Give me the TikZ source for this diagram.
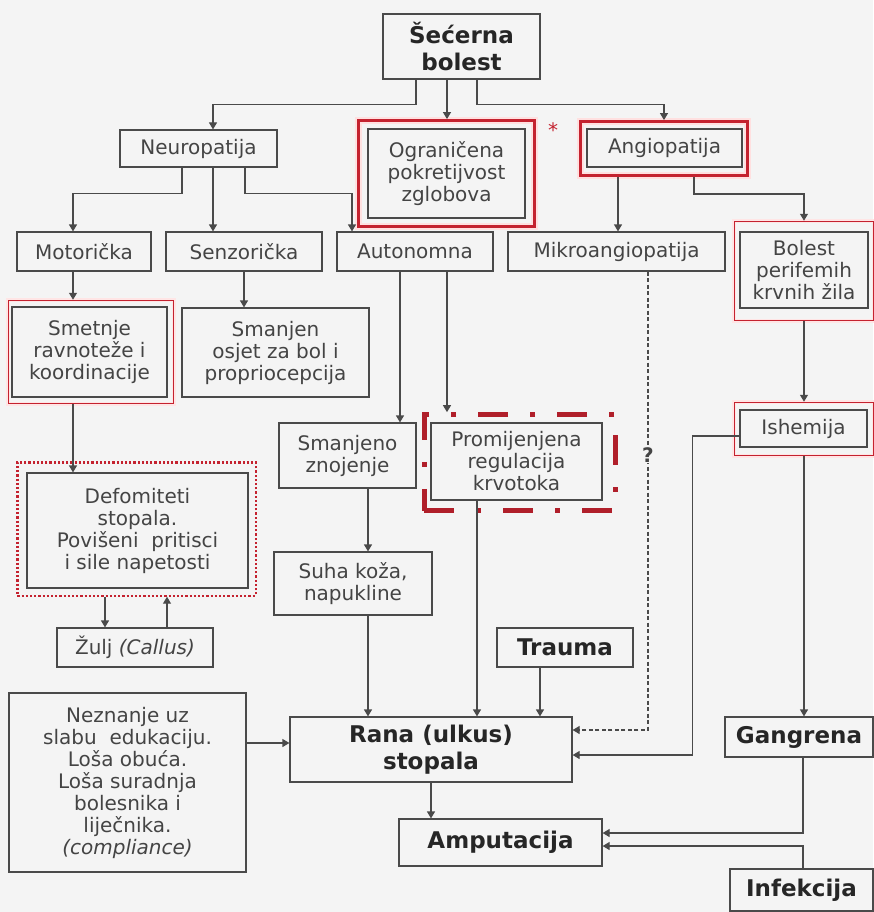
\documentclass[tikz,border=0pt]{standalone}
\usepackage{fontspec}
\setmainfont{DejaVu Sans}
\usetikzlibrary{arrows.meta,fit,backgrounds}
\definecolor{linec}{HTML}{4A4A4A}
\definecolor{txtc}{HTML}{444444}
\definecolor{redc}{HTML}{C4222F}
\definecolor{bgc}{HTML}{F4F4F4}

\begin{document}
\begin{tikzpicture}[x=1pt,y=-1pt,
	every node/.style={font=\fontsize{20}{22}\selectfont, text=txtc},
	box/.style={draw=linec, line width=1.2pt, align=center, inner sep=0pt},
	bbox/.style={box, font=\fontsize{23}{27}\selectfont\bfseries, text=black!85},
	redframe/.style={draw=redc, line width=2.6pt, inner sep=0pt, preaction={draw=red!12, line width=7pt}},
	thinframe/.style={draw=redc, line width=1.3pt, inner sep=0pt, preaction={draw=red!10, line width=4pt}},
	dotframe/.style={draw=redc, line width=2.2pt, dotted, inner sep=0pt},
	dashframe/.style={draw=redc!90!black, line width=4.5pt, inner sep=0pt, dash pattern=on 30pt off 22pt on 5pt off 22pt},
	arr/.style={draw=linec, line width=1.2pt, -{Triangle[width=8pt,length=7pt]}}]
	\useasboundingbox (0,0) rectangle (873,912);
	\node[bbox, minimum width=157pt, minimum height=65pt] (secer) at (461.5,46.5) {Šećerna\\bolest};
	\node[box, minimum width=157pt, minimum height=37pt] (neuro) at (198.5,148.5) {Neuropatija};
	\node[box, minimum width=157pt, minimum height=89pt] (ogran) at (446.5,173.5) {Ograničena\\pokretijvost\\zglobova};
	\node[box, minimum width=155pt, minimum height=38pt] (angio) at (664.5,148) {Angiopatija};
	\node[box, minimum width=134pt, minimum height=39pt] (motor) at (84,251.5) {Motorička};
	\node[box, minimum width=156pt, minimum height=39pt] (senzor) at (244,251.5) {Senzorička};
	\node[box, minimum width=156pt, minimum height=39pt] (auton) at (415,251.5) {Autonomna};
	\node[box, minimum width=217pt, minimum height=39pt] (mikro) at (616.5,251.5) {Mikroangiopatija};
	\node[box, minimum width=128pt, minimum height=76pt] (bolest) at (804,270) {Bolest\\perifemih\\krvnih žila};
	\node[box, minimum width=155pt, minimum height=90pt] (smet) at (89.5,352) {Smetnje\\ravnoteže i\\koordinacije};
	\node[box, minimum width=187pt, minimum height=89pt] (smanj) at (275.5,352.5) {Smanjen\\osjet za bol i\\propriocepcija};
	\node[box, minimum width=137pt, minimum height=65pt] (znoj) at (347.5,455.5) {Smanjeno\\znojenje};
	\node[box, minimum width=171pt, minimum height=77pt] (promj) at (516.5,461.5) {Promijenjena\\regulacija\\krvotoka};
	\node[box, minimum width=127pt, minimum height=37pt] (isch) at (803.5,428.5) {Ishemija};
	\node[box, minimum width=221pt, minimum height=115pt] (deform) at (137.5,530.5) {Defomiteti\\stopala.\\Povišeni\ \ pritisci\\i sile napetosti};
	\node[box, minimum width=158pt, minimum height=63pt] (suha) at (353,583.5) {Suha koža,\\napukline};
	\node[box, minimum width=156pt, minimum height=39pt] (zulj) at (135,647.5) {Žulj \textit{(Callus)}};
	\node[bbox, minimum width=136pt, minimum height=39pt] (trauma) at (565,647.5) {Trauma};
	\node[box, minimum width=237pt, minimum height=179pt] (nez) at (127.5,782.5) {Neznanje uz\\slabu\ \ edukaciju.\\Loša obuća.\\Loša suradnja\\bolesnika i\\liječnika.\\\textit{(compliance)}};
	\node[bbox, minimum width=282pt, minimum height=65pt] (rana) at (431,749.5) {Rana (ulkus)\\stopala};
	\node[bbox, minimum width=148pt, minimum height=40pt] (gang) at (799,737) {Gangrena};
	\node[bbox, minimum width=203pt, minimum height=47pt] (amput) at (500.5,842.5) {Amputacija};
	\node[bbox, minimum width=143pt, minimum height=42pt] (infek) at (801.5,890) {Infekcija};
	\node[text=redc] (star) at (553,130) {*};
	\begin{scope}[on background layer]
		\fill[bgc] (0,0) rectangle (873,912);
		\node[redframe, fit={([shift={(-9,-8)}]ogran.north west) ([shift={(9,8)}]ogran.south east)}] (ogranF) {};
		\node[redframe, fit={([shift={(-6,-7)}]angio.north west) ([shift={(5,8)}]angio.south east)}] (angioF) {};
		\node[thinframe, fit={([shift={(-5,-10)}]bolest.north west) ([shift={(5,12)}]bolest.south east)}] (bolestF) {};
		\node[thinframe, fit={([shift={(-3,-6)}]smet.north west) ([shift={(6,6)}]smet.south east)}] (smetF) {};
		\node[thinframe, fit={([shift={(-5,-7)}]isch.north west) ([shift={(6,8)}]isch.south east)}] (ischF) {};
		\node[dashframe, fit={([shift={(-6,-8)}]promj.north west) ([shift={(13,10)}]promj.south east)}] (promF) {};
		\node[dotframe, fit={([shift={(-9,-10)}]deform.north west) ([shift={(7,7)}]deform.south east)}] (deformF) {};
	\end{scope}
	\draw[arr] ([xshift=-45.5pt]secer.south) -- ++(0,25) -| ([xshift=14.5pt]neuro.north);
	\draw[arr] ([xshift=-14.5pt]secer.south) -- ([xshift=-14.5pt]secer.south |- ogranF.north);
	\draw[arr] ([xshift=15.5pt]secer.south) -- ++(0,25) -| (angioF.north);
	\draw[arr] ([xshift=-16.5pt]neuro.south) -- ++(0,26) -| ([xshift=-11pt]motor.north);
	\draw[arr] ([xshift=14.5pt]neuro.south) -- ([xshift=14.5pt]neuro.south |- senzor.north);
	\draw[arr] ([xshift=46.5pt]neuro.south) -- ++(0,26) -| ([xshift=-63pt]auton.north);
	\draw[arr] ([xshift=-46pt]angioF.south) -- ([xshift=-46pt]angioF.south |- mikro.north);
	\draw[arr] ([xshift=30pt]angioF.south) -- ++(0,17) -| (bolestF.north);
	\draw[arr] ([xshift=-11pt]motor.south) -- ([xshift=-11pt]motor.south |- smetF.north);
	\draw[arr] (senzor.south) -- (senzor.south |- smanj.north);
	\draw[arr] ([xshift=-15pt]auton.south) -- ([xshift=-15pt]auton.south |- znoj.north);
	\draw[arr] ([xshift=32pt]auton.south) -- ([xshift=32pt]auton.south |- promF.north);
	\draw[arr, dash pattern=on 4pt off 2.5pt] ([xshift=31.5pt]mikro.south) |- node[pos=0.2, fill=bgc, inner sep=1pt, font=\fontsize{20}{22}\selectfont\bfseries] (qmark) {?} ([yshift=19.5pt]rana.east);
	\draw[arr] (bolestF.south) -- (bolestF.south |- ischF.north);
	\draw[arr] ([yshift=-7.5pt]isch.west) -- ++(-47,0) |- ([yshift=-5.5pt]rana.east);
	\draw[arr] (ischF.south) -- (ischF.south |- gang.north);
	\draw[arr] ([xshift=-18pt]smetF.south) -- ([xshift=-18pt]smetF.south |- deform.north);
	\draw[arr] ([xshift=-31.5pt]deformF.south) -- ([xshift=-31.5pt]deformF.south |- zulj.north);
	\draw[arr] ([xshift=32pt]zulj.north) -- ([xshift=32pt]zulj.north |- deformF.south);
	\draw[arr] ([xshift=20.5pt]znoj.south) -- ([xshift=20.5pt]znoj.south |- suha.north);
	\draw[arr] ([xshift=15pt]suha.south) -- ([xshift=15pt]suha.south |- rana.north);
	\draw[arr] ([xshift=-39.5pt]promj.south) -- ([xshift=-39.5pt]promj.south |- rana.north);
	\draw[arr] ([xshift=-25pt]trauma.south) -- ([xshift=-25pt]trauma.south |- rana.north);
	\draw[arr] ([yshift=39.5pt]nez.east) -- ([yshift=39.5pt]nez.east -| rana.west);
	\draw[arr] (rana.south) -- (rana.south |- amput.north);
	\draw[arr] ([xshift=4pt]gang.south) |- ([yshift=9.5pt]amput.east);
	\draw[arr] ([xshift=1.5pt]infek.north) |- ([yshift=-3.5pt]amput.east);
\end{tikzpicture}
\end{document}
